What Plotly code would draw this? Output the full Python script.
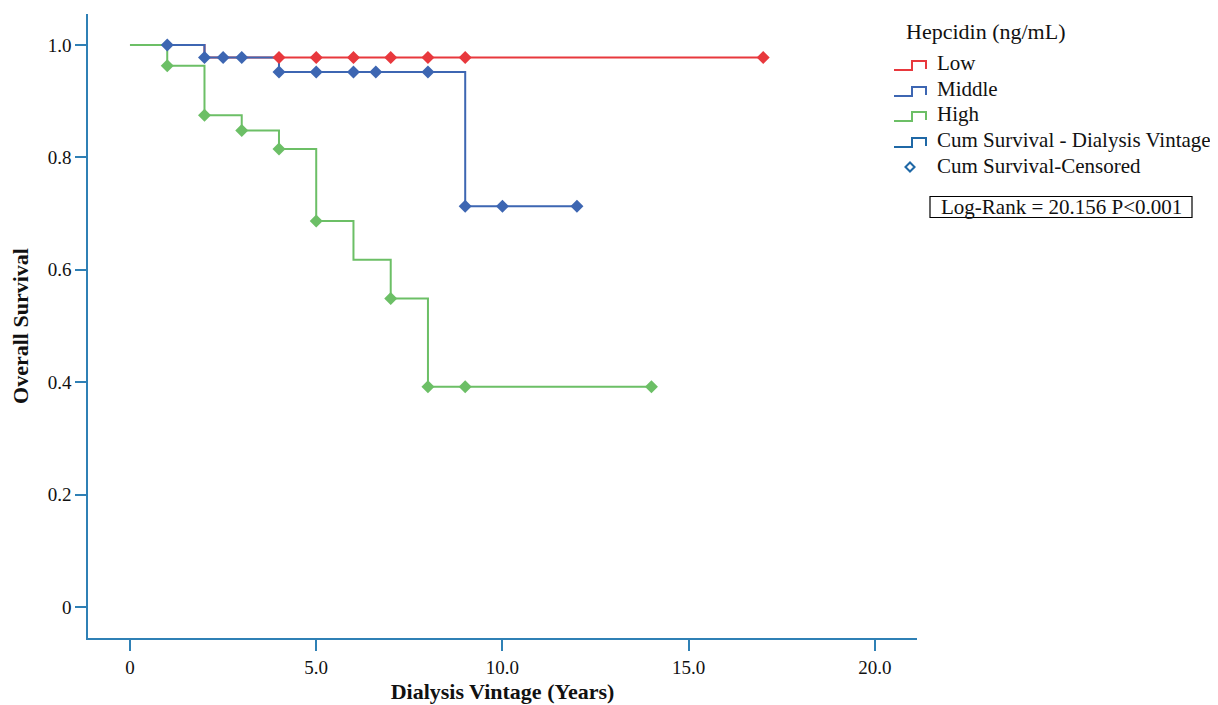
import plotly.graph_objects as go
import bisect

# ---------------- data ----------------
low_times = [0, 2, 17]
low_surv = [1.0, 0.978, 0.978]
low_censor_times = [4, 5, 6, 7, 8, 9, 17]

mid_times = [0, 2, 4, 9, 12]
mid_surv = [1.0, 0.978, 0.952, 0.713, 0.713]
mid_censor_times = [1, 2, 2.5, 3, 4, 5, 6, 6.6, 8, 9, 10, 12]

high_times = [0, 1, 2, 3, 4, 5, 6, 7, 8, 14]
high_surv = [1.0, 0.963, 0.875, 0.848, 0.815, 0.687, 0.618, 0.549, 0.392, 0.392]
high_censor_times = [1, 2, 3, 4, 5, 7, 8, 9, 14]

group_names = ["Low", "Middle", "High"]
x_tick_vals = [0, 5, 10, 15, 20]
x_tick_text = ["0", "5.0", "10.0", "15.0", "20.0"]
y_tick_vals = [0, 0.2, 0.4, 0.6, 0.8, 1.0]
y_tick_text = ["0", "0.2", "0.4", "0.6", "0.8", "1.0"]
legend_title = "Hepcidin (ng/mL)"
legend_extra = ["Cum Survival - Dialysis Vintage", "Cum Survival-Censored"]
stat_text = "Log-Rank = 20.156 P<0.001"

# ---------------- style ----------------
RED = "#E8383D"
BLUE = "#3D66B2"
GREEN = "#6CBF66"
DARK = "#1F68A6"
AXIS = "#2F80B5"
FONT = "Liberation Serif"
LEG_SIZE = 21

OFF = 8  # page body margin
W, H = 1218 - OFF, 705 - OFF
ML, MR, MT, MB = 80, 301, 6, 67
PW, PH = W - ML - MR, H - MT - MB


def px(xp):
    return (xp - OFF - ML) / PW


def py(yp):
    return (OFF + H - MB - yp) / PH


def step_value(times, surv, t):
    i = bisect.bisect_right(times, t) - 1
    return surv[max(i, 0)]


fig = go.Figure()

series = [
    (low_times, low_surv, low_censor_times, RED),
    (mid_times, mid_surv, mid_censor_times, BLUE),
    (high_times, high_surv, high_censor_times, GREEN),
]

for name, (t, s, ct, col) in zip(group_names, series):
    fig.add_trace(go.Scatter(
        x=t, y=s, mode="lines", line=dict(color=col, width=2, shape="hv"),
        name=name, showlegend=False, hoverinfo="skip"))
for name, (t, s, ct, col) in zip(group_names, series):
    fig.add_trace(go.Scatter(
        x=ct, y=[step_value(t, s, c) for c in ct], mode="markers",
        marker=dict(symbol="diamond", size=10, color=col, line=dict(width=0)),
        name=name + " censored", showlegend=False))

# ---------------- custom legend ----------------
shapes = []
annotations = []
annotations.append(dict(x=px(904), y=py(31), xref="paper", yref="paper",
                        text=legend_title, showarrow=False, xanchor="left",
                        yanchor="middle", font=dict(family=FONT, size=22, color="#111")))
item_y = [63, 89, 114, 140]
item_cols = [RED, BLUE, GREEN, DARK]
item_text = group_names + [legend_extra[0]]
for yc, col, txt in zip(item_y, item_cols, item_text):
    path = "M {},{} L {},{} L {},{} L {},{} L {},{}".format(
        px(894), py(yc + 7), px(912), py(yc + 7), px(912), py(yc - 2),
        px(926), py(yc - 2), px(926), py(yc + 6))
    shapes.append(dict(type="path", path=path, xref="paper", yref="paper",
                       line=dict(color=col, width=2)))
    annotations.append(dict(x=px(935), y=py(yc), xref="paper", yref="paper",
                            text=txt, showarrow=False, xanchor="left", yanchor="middle",
                            font=dict(family=FONT, size=LEG_SIZE, color="#111")))
# censored marker legend
fig.add_trace(go.Scatter(
    x=[px(910)], y=[py(167)], xaxis="x2", yaxis="y2", mode="markers",
    marker=dict(symbol="diamond-open", size=7, color=DARK, line=dict(width=2, color=DARK)),
    showlegend=False, hoverinfo="skip"))
annotations.append(dict(x=px(935), y=py(166), xref="paper", yref="paper",
                        text=legend_extra[1], showarrow=False, xanchor="left",
                        yanchor="middle", font=dict(family=FONT, size=LEG_SIZE, color="#111")))
# stats box
shapes.append(dict(type="rect", xref="paper", yref="paper",
                   x0=px(930), x1=px(1192), y0=py(196.5), y1=py(217.5),
                   line=dict(color="black", width=1.2)))
annotations.append(dict(x=px(1061), y=py(207), xref="paper", yref="paper",
                        text=stat_text, showarrow=False, xanchor="center",
                        yanchor="middle", font=dict(family=FONT, size=LEG_SIZE, color="#111")))

fig.update_layout(
    width=W, height=H,
    margin=dict(l=ML, r=MR, t=MT, b=MB, autoexpand=False),
    paper_bgcolor="white", plot_bgcolor="white",
    showlegend=False,
    shapes=shapes, annotations=annotations,
    xaxis=dict(range=[-1.1275, 21.13], showgrid=False, zeroline=False,
               showline=True, linecolor=AXIS, linewidth=1.5,
               ticks="outside", ticklen=11, tickwidth=2, tickcolor=AXIS,
               tickvals=x_tick_vals, ticktext=x_tick_text,
               tickfont=dict(family=FONT, size=19, color="#111"),
               title=dict(text="<b>Dialysis Vintage (Years)</b>", standoff=7,
                          font=dict(family=FONT, size=22, color="#111"))),
    yaxis=dict(range=[-0.0552, 1.0552], showgrid=False, zeroline=False,
               showline=True, linecolor=AXIS, linewidth=1.5,
               ticks="outside", ticklen=11, tickwidth=2, tickcolor=AXIS,
               tickvals=y_tick_vals, ticktext=y_tick_text,
               tickfont=dict(family=FONT, size=19, color="#111"),
               title=dict(text="<b>Overall Survival</b>", standoff=14,
                          font=dict(family=FONT, size=22, color="#111"))),
    xaxis2=dict(range=[0, 1], domain=[0, 1], visible=False, overlaying="x",
                anchor="y2", fixedrange=True),
    yaxis2=dict(range=[0, 1], domain=[0, 1], visible=False, overlaying="y",
                anchor="x2", fixedrange=True),
)

fig.write_html("out.html")
